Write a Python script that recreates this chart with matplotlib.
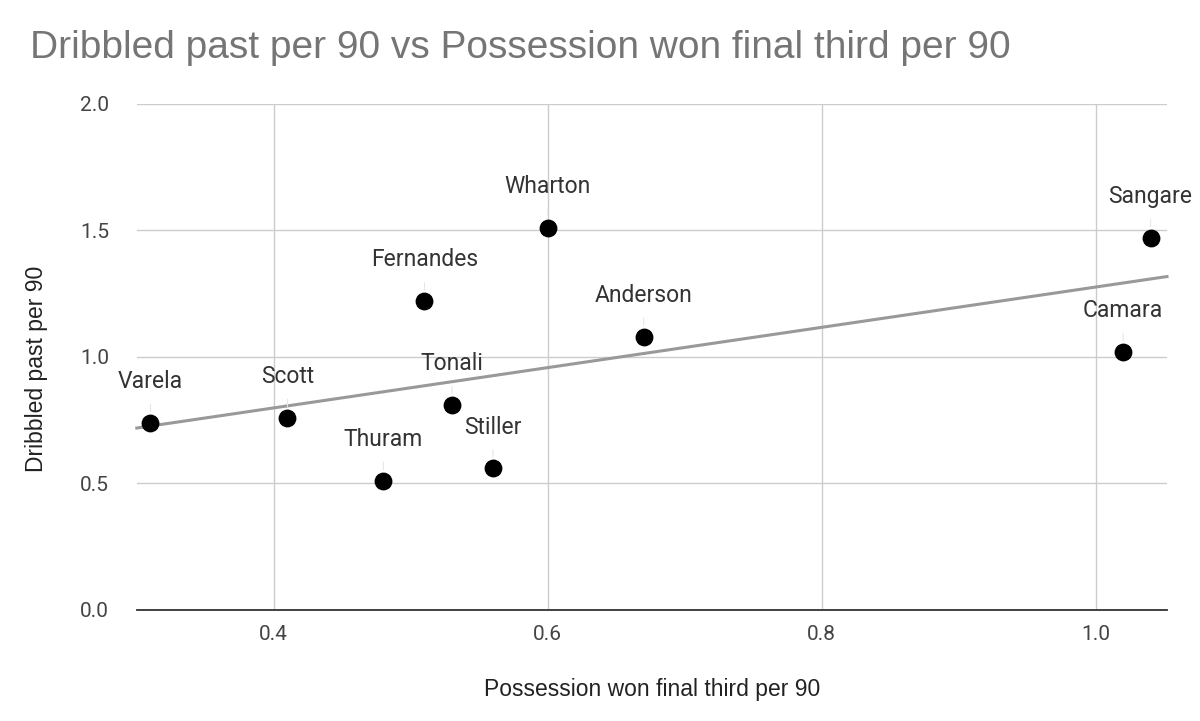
import matplotlib
matplotlib.use("Agg")
import matplotlib.pyplot as plt
import numpy as np

players = ["Varela", "Scott", "Thuram", "Fernandes", "Tonali", "Stiller",
           "Wharton", "Anderson", "Camara", "Sangare"]
poss_won = [0.31, 0.41, 0.48, 0.51, 0.53, 0.56, 0.60, 0.67, 1.02, 1.04]
dribbled_past = [0.74, 0.76, 0.51, 1.22, 0.81, 0.56, 1.51, 1.08, 1.02, 1.47]
x_ticks = [0.4, 0.6, 0.8, 1.0]
y_ticks = [0.0, 0.5, 1.0, 1.5, 2.0]

fig = plt.figure(figsize=(12, 7.21), dpi=100)
ax = fig.add_axes([0.114, 0.154, 0.8585, 0.702])
xlim = (0.30, 1.052)
ax.set_xlim(*xlim)
ax.set_ylim(0, 2.0)

for s in ["top", "right", "left"]:
    ax.spines[s].set_visible(False)
ax.spines["bottom"].set_color("#333333")
ax.spines["bottom"].set_linewidth(1.3)

ax.set_xticks(x_ticks)
ax.set_yticks(y_ticks)
ax.set_xticklabels([f"{v:.1f}" for v in x_ticks], family="Roboto", fontsize=15)
ax.set_yticklabels([f"{v:.1f}" for v in y_ticks], family="Roboto", fontsize=15)
ax.tick_params(length=0, labelcolor="#444444")
ax.tick_params(axis="x", pad=11)
ax.tick_params(axis="y", pad=20)
ax.grid(True, color="#cccccc", linewidth=1)
ax.set_axisbelow(True)

# trendline
coef = np.polyfit(poss_won, dribbled_past, 1)
xx = np.array(xlim)
ax.plot(xx, np.polyval(coef, xx), color="#999999", linewidth=2.2, zorder=2, clip_on=False)

ax.scatter(poss_won, dribbled_past, s=140, color="black", zorder=3)

for name, x, y in zip(players, poss_won, dribbled_past):
    ax.annotate(name, xy=(x, y), xytext=(0, 25), textcoords="offset points",
                ha="center", va="baseline", fontsize=16.5, color="#333333",
                family="Roboto",
                arrowprops=dict(arrowstyle="-", color="#e6e6e6", lw=0.8,
                                shrinkA=6, shrinkB=8), zorder=4)

ax.set_xlabel("Possession won final third per 90", fontsize=16.5,
              color="#222222", labelpad=24, family="Liberation Sans")
ax.set_ylabel("Dribbled past per 90", fontsize=16.5, color="#222222",
              family="Liberation Sans")
ax.yaxis.set_label_coords(-0.086, 0.476)

fig.text(0.025, 0.933, "Dribbled past per 90 vs Possession won final third per 90",
         fontsize=28, color="#757575", family="Liberation Sans", va="center")

fig.savefig("out.png", dpi=100, facecolor="white")
